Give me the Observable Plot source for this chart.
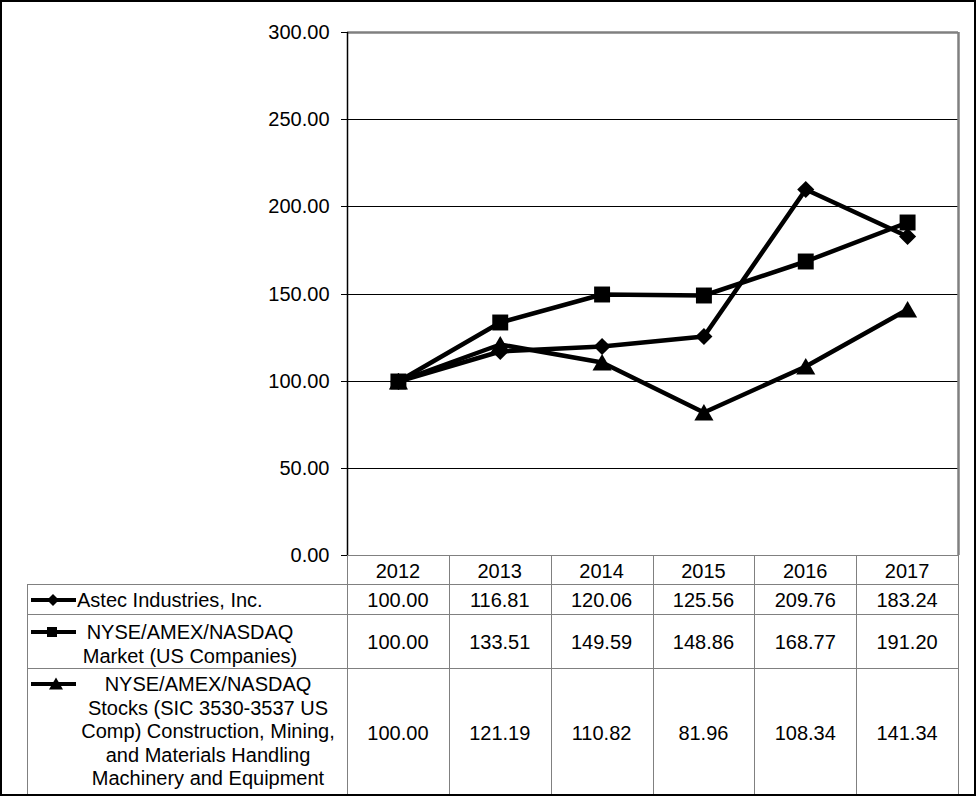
<!DOCTYPE html>
<html>
<head>
<meta charset="utf-8">
<script src="https://cdn.jsdelivr.net/npm/d3@7"></script>
<script src="https://cdn.jsdelivr.net/npm/@observablehq/plot@0.6"></script>
<style>
  html, body { margin: 0; padding: 0; background: white; }
  #wrap { position: relative; width: 976px; height: 796px; overflow: hidden; background: white; font-family: "Liberation Sans", Arial, sans-serif; }
  #wrap > svg { position: absolute; left: 0; top: 0; }
  #border { position: absolute; left: 0; top: 0; width: 976px; height: 796px; box-sizing: border-box; border: 2px solid black; pointer-events: none; }
</style>
</head>
<body>
<div id="wrap"><div id="border"></div></div>
<script>
// ---- data ----
const years = ["2012", "2013", "2014", "2015", "2016", "2017"];
const astec = [100.00, 116.81, 120.06, 125.56, 209.76, 183.24];
const market = [100.00, 133.51, 149.59, 148.86, 168.77, 191.20];
const peer = [100.00, 121.19, 110.82, 81.96, 108.34, 141.34];
const seriesNames = [
  "Astec Industries, Inc.",
  "NYSE/AMEX/NASDAQ\nMarket (US Companies)",
  "NYSE/AMEX/NASDAQ\nStocks (SIC 3530-3537 US\nComp) Construction, Mining,\nand Materials Handling\nMachinery and Equipment"
];
const yTicks = [0, 50, 100, 150, 200, 250, 300];
const gridValues = [50, 100, 150, 200, 250];

// ---- styles (kept separate from data) ----
const seriesStyle = [
  {symbol: "diamond2", r: 7.7, dy: 0, key: {type: d3.symbolDiamond2, size: 92, dy: 0}},
  {symbol: "square", r: 9, dy: 0, key: {type: d3.symbolSquare, size: 100, dy: 0}},
  {symbol: "triangle", r: 7.1, dy: 2.6, key: {type: d3.symbolTriangle, size: 85, dy: 1.5}}
];
const seriesValues = [astec, market, peer];
const rows = seriesValues.flatMap((vals, s) => vals.map((v, i) => ({s, i, year: years[i], v})));

const W = 976, H = 796;
const plot = Plot.plot({
  width: W,
  height: 580,
  marginLeft: 347,
  marginRight: 18,
  marginTop: 32,
  marginBottom: 25,
  style: {fontFamily: "'Liberation Sans', Arial, sans-serif", fontSize: "20px", color: "black", background: "white"},
  x: {type: "linear", domain: [-0.5, years.length - 0.5], axis: null},
  y: {domain: [0, 300], round: true},
  marks: [
    Plot.ruleY(gridValues, {stroke: "black", strokeWidth: 1}),
    Plot.ruleY([0], {stroke: "#808080", strokeWidth: 1}),
    Plot.ruleY([300], {stroke: "#808080", strokeWidth: 2.5}),
    Plot.ruleX([years.length - 0.5], {stroke: "#808080", strokeWidth: 2.5}),
    Plot.ruleX([-0.5], {stroke: "black", strokeWidth: 1.5}),
    Plot.axisY({ticks: yTicks, tickFormat: d => d.toFixed(2), tickSize: 6, tickPadding: 12, fontSize: 20, label: null, stroke: "black"}),
    ...seriesStyle.map((st, s) =>
      Plot.line(rows.filter(d => d.s === s), {x: "i", y: "v", stroke: "black", strokeWidth: 4.5, strokeLinejoin: "miter"})
    ),
    ...seriesStyle.map((st, s) =>
      Plot.dot(rows.filter(d => d.s === s), {x: "i", y: "v", symbol: st.symbol, r: st.r, dy: st.dy, fill: "black", stroke: "none"})
    )
  ]
});
const wrap = document.getElementById("wrap");
wrap.insertBefore(plot, document.getElementById("border"));

// ---- data table below the plot ----
const xs = plot.scale("x");
const edges = d3.range(years.length + 1).map(k => xs.apply(k - 0.5));
const tableLeft = 27;
const rowEdges = [555, 584, 614, 668, 796];
const rowValueY = [(584 + 614) / 2, (614 + 668) / 2, (668 + 795) / 2];
const lh = 23.6;

const svg = d3.create("svg").attr("width", W).attr("height", H)
  .style("font-family", "'Liberation Sans', Arial, sans-serif").style("font-size", "20px");
const gray = "#808080";
const crisp = v => Math.round(v) + 0.5;

// vertical lines for year columns (from header top)
edges.forEach(x => {
  svg.append("line").attr("x1", crisp(x)).attr("x2", crisp(x)).attr("y1", rowEdges[0]).attr("y2", H)
    .attr("stroke", gray);
});
// left edge of label column
svg.append("line").attr("x1", crisp(tableLeft)).attr("x2", crisp(tableLeft)).attr("y1", rowEdges[1]).attr("y2", H).attr("stroke", gray);
// horizontal row lines
rowEdges.slice(1, 4).forEach(y => {
  svg.append("line").attr("x1", tableLeft).attr("x2", edges[edges.length - 1]).attr("y1", crisp(y)).attr("y2", crisp(y)).attr("stroke", gray);
});

// header years
years.forEach((y, i) => {
  svg.append("text").attr("x", xs.apply(i)).attr("y", (rowEdges[0] + rowEdges[1]) / 2 + 1)
    .attr("text-anchor", "middle").attr("dominant-baseline", "central").text(y);
});
// values
seriesValues.forEach((vals, s) => {
  vals.forEach((v, i) => {
    svg.append("text").attr("x", xs.apply(i)).attr("y", rowValueY[s] + 1)
      .attr("text-anchor", "middle").attr("dominant-baseline", "central").text(v.toFixed(2));
  });
});
// labels & keys
const labelLayout = [
  {x: 77, anchor: "start", firstY: 600},
  {x: 190, anchor: "middle", firstY: 632},
  {x: 208, anchor: "middle", firstY: 684}
];
const keyX = [53, 52, 56];
seriesNames.forEach((name, s) => {
  const L = labelLayout[s];
  const lines = name.split("\n");
  lines.forEach((ln, k) => {
    svg.append("text").attr("x", L.x).attr("y", L.firstY + k * lh)
      .attr("text-anchor", L.anchor).attr("dominant-baseline", "central").text(ln);
  });
  const ky = L.firstY;
  svg.append("line").attr("x1", 31).attr("x2", 76).attr("y1", ky).attr("y2", ky)
    .attr("stroke", "black").attr("stroke-width", 4);
  const k = seriesStyle[s].key;
  svg.append("path").attr("d", d3.symbol(k.type, k.size)())
    .attr("transform", `translate(${keyX[s]},${ky + k.dy})`).attr("fill", "black");
});
wrap.insertBefore(svg.node(), document.getElementById("border"));
</script>
</body>
</html>
